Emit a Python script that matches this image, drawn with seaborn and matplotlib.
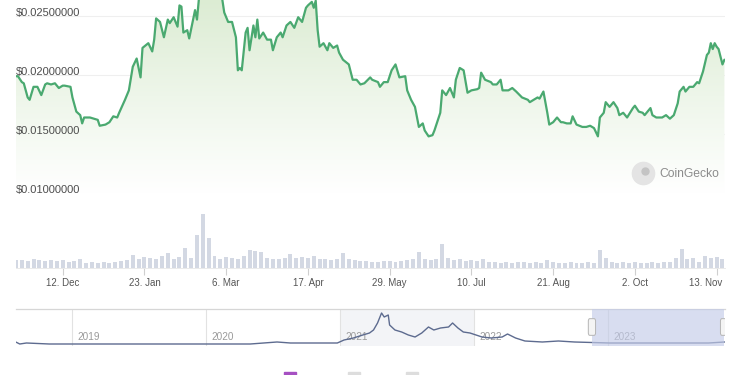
import numpy as np
import pandas as pd
import matplotlib.pyplot as plt
import seaborn as sns
from matplotlib.colors import LinearSegmentedColormap
from matplotlib.patches import Rectangle, FancyBboxPatch
from matplotlib.transforms import offset_copy

# price, one year of data starting 18 Nov 2022 (day offsets)
start = pd.Timestamp('2022-11-18')
day_offset = [0, 1, 3, 4, 6, 7, 9, 11, 13, 15,
              16, 18, 20, 22, 24, 25, 28, 29, 31, 33,
              34, 35, 38, 42, 43, 46, 48, 50, 52, 53,
              56, 58, 60, 62, 64, 65, 68, 70, 71, 72,
              74, 76, 78, 79, 81, 83, 84, 85, 86, 88,
              89, 92, 93, 94, 96, 98, 100, 102, 104, 105,
              106, 107, 109, 111, 113, 114, 115, 116, 118, 119,
              120, 122, 123, 124, 125, 127, 129, 131, 132, 134,
              136, 137, 139, 141, 143, 145, 147, 149, 150, 152,
              153, 154, 155, 156, 158, 160, 161, 163, 165, 166,
              168, 171, 173, 175, 177, 179, 182, 183, 186, 187,
              189, 191, 193, 195, 197, 200, 201, 203, 205, 207,
              209, 210, 212, 214, 215, 218, 219, 221, 223, 225,
              226, 228, 230, 232, 234, 237, 238, 239, 241, 244,
              245, 247, 249, 250, 253, 255, 257, 260, 263, 264,
              266, 268, 269, 271, 273, 274, 276, 278, 280, 281,
              283, 285, 286, 288, 291, 293, 295, 297, 299, 300,
              302, 303, 305, 307, 309, 310, 312, 314, 317, 318,
              320, 322, 323, 326, 327, 329, 332, 334, 336, 338,
              340, 341, 343, 344, 346, 348, 350, 351, 353, 355,
              356, 357, 358, 359, 360, 361, 363, 364]
price = [.0199, .0199, .0194, .0193, .0181, .0179, .0190, .0190, .0183, .0192,
         .0193, .0192, .0193, .0189, .0191, .0191, .0190, .0181, .0169, .0166,
         .0159, .0164, .0164, .0162, .0157, .0158, .0160, .0165, .0164, .0168,
         .0179, .0187, .0207, .0214, .0198, .0223, .0227, .0220, .0230, .0248,
         .0245, .0232, .0247, .0244, .0249, .0241, .0259, .0258, .0236, .0238,
         .0231, .0255, .0247, .0265, .0275, .0270, .0282, .0276, .0285, .0272,
         .0264, .0253, .0245, .0245, .0232, .0204, .0206, .0204, .0236, .0240,
         .0221, .0242, .0232, .0247, .0231, .0236, .0230, .0230, .0221, .0232,
         .0236, .0232, .0242, .0245, .0240, .0249, .0245, .0257, .0259, .0262,
         .0257, .0263, .0238, .0224, .0227, .0221, .0227, .0223, .0225, .0219,
         .0213, .0209, .0196, .0196, .0192, .0193, .0198, .0196, .0194, .0190,
         .0194, .0194, .0204, .0209, .0198, .0199, .0187, .0179, .0173, .0156,
         .0159, .0153, .0148, .0149, .0153, .0168, .0187, .0183, .0189, .0181,
         .0196, .0206, .0204, .0185, .0187, .0188, .0189, .0202, .0196, .0194,
         .0192, .0192, .0196, .0187, .0187, .0189, .0186, .0181, .0179, .0177,
         .0179, .0181, .0180, .0186, .0168, .0158, .0160, .0164, .0160, .0160,
         .0159, .0159, .0165, .0158, .0156, .0156, .0157, .0155, .0148, .0164,
         .0168, .0177, .0173, .0177, .0172, .0166, .0168, .0164, .0172, .0174,
         .0169, .0168, .0166, .0172, .0166, .0164, .0164, .0166, .0163, .0166,
         .0176, .0186, .0190, .0186, .0190, .0190, .0194, .0193, .0203, .0217,
         .0219, .0227, .0222, .0227, .0224, .0222, .0209, .0213]

# volume, one reading every 3 days (arbitrary units)
vol_step = 3
volume = [8, 8, 7, 9, 8, 7, 8, 7, 8, 6,
          7, 9, 5, 6, 5, 6, 5, 6, 7, 8,
          13, 9, 11, 10, 9, 12, 15, 9, 11, 20,
          10, 33, 54, 30, 12, 9, 11, 10, 9, 12,
          18, 17, 16, 10, 9, 9, 10, 14, 10, 11,
          10, 12, 9, 9, 8, 9, 15, 9, 8, 7,
          7, 6, 6, 7, 7, 6, 7, 8, 9, 16,
          9, 8, 9, 24, 10, 8, 9, 7, 8, 7,
          9, 6, 6, 5, 6, 5, 6, 6, 5, 6,
          5, 8, 6, 5, 5, 6, 5, 5, 6, 5,
          18, 10, 6, 5, 6, 5, 6, 5, 5, 6,
          5, 6, 6, 10, 19, 9, 10, 6, 12, 10,
          11, 9]
vol_day = np.arange(len(volume)) * vol_step

tick_dates = ['2022-12-12', '2023-01-23', '2023-03-06', '2023-04-17', '2023-05-29',
              '2023-07-10', '2023-08-21', '2023-10-02', '2023-11-13']
tick_labels = ['12. Dec', '23. Jan', '6. Mar', '17. Apr', '29. May',
               '10. Jul', '21. Aug', '2. Oct', '13. Nov']
price_levels = [0.010, 0.015, 0.020, 0.025]

# navigator (full history)
nav_year = [2018.58, 2018.61, 2018.66, 2018.83, 2019.21, 2019.96, 2020.33, 2020.53,
            2020.63, 2020.83, 2020.98, 2021.03, 2021.10, 2021.17, 2021.22, 2021.25,
            2021.28, 2021.31, 2021.33, 2021.36, 2021.37, 2021.41, 2021.46, 2021.51,
            2021.56, 2021.61, 2021.66, 2021.70, 2021.75, 2021.81, 2021.84, 2021.88,
            2021.92, 2021.97, 2022.06, 2022.13, 2022.21, 2022.25, 2022.31, 2022.38,
            2022.51, 2022.63, 2022.75, 2023.01, 2023.26, 2023.51, 2023.75, 2023.87]
nav_price = [0.024, 0.012, 0.018, 0.012, 0.012, 0.012, 0.012, 0.024,
             0.018, 0.018, 0.018, 0.036, 0.048, 0.066, 0.078, 0.096,
             0.138, 0.198, 0.174, 0.186, 0.126, 0.096, 0.084, 0.066,
             0.054, 0.078, 0.114, 0.096, 0.108, 0.114, 0.138, 0.108,
             0.084, 0.078, 0.054, 0.048, 0.054, 0.072, 0.048, 0.030,
             0.024, 0.030, 0.024, 0.018, 0.018, 0.018, 0.018, 0.024]
nav_years = [2019, 2020, 2021, 2022, 2023]

LINE = '#4aa970'
VOL = '#d3d8e3'
NAV = '#5d6b8f'

sns.set_theme(style='white')
plt.rcParams['font.family'] = ['Liberation Sans', 'DejaVu Sans']

W, H = 750, 375
fig = plt.figure(figsize=(7.5, 3.75), dpi=100)
fig.patch.set_facecolor('white')

XMAX = 364.3
YMIN, YMAX = 0.010, 0.02636

# ---- main price chart
ax = fig.add_axes([16 / W, 1 - 193 / H, 709 / W, 193 / H])
for v in price_levels:
    ax.axhline(v, color='#efefef', lw=0.8, zorder=0)
    ax.annotate(f'${v:.8f}', (0, v), xytext=(0, -1.5), textcoords='offset points',
                ha='left', va='bottom', fontsize=8, color='#4d4d4d', zorder=4)

poly = ax.fill_between(day_offset, price, YMIN, color='none', lw=0)
cmap = LinearSegmentedColormap.from_list('g', ['#ffffff', '#eef6ea', '#dcecd3'])
img = ax.imshow(np.linspace(0, 1, 256).reshape(-1, 1), cmap=cmap, aspect='auto',
                origin='lower', extent=[0, XMAX, YMIN, YMAX], zorder=1)
img.set_clip_path(poly.get_paths()[0], transform=ax.transData)

sns.lineplot(x=day_offset, y=price, ax=ax, color=LINE, linewidth=1.6,
             estimator=None, zorder=3)
ax.set_xlim(0, XMAX)
ax.set_ylim(YMIN, YMAX)
ax.axis('off')

# CoinGecko watermark
fig.lines.append(plt.Line2D([643 / W], [1 - 173 / H], marker='o', markersize=16,
                            color='#e4e4e4', transform=fig.transFigure))
fig.lines.append(plt.Line2D([645 / W], [1 - 171 / H], marker='o', markersize=5,
                            color='#c4c4c4', transform=fig.transFigure))
fig.text(659 / W, 1 - 174 / H, 'CoinGecko', fontsize=8.7, color='#8c8c8c',
         ha='left', va='center')

# ---- volume
vax = fig.add_axes([16 / W, 1 - 268 / H, 709 / W, 63 / H])
sns.histplot(x=vol_day, weights=volume, binwidth=vol_step, binrange=(-1.5, 364.5),
             shrink=0.68, color=VOL, edgecolor='none', linewidth=0, alpha=1, ax=vax)
vax.set_xlim(0, XMAX)
vax.set_ylim(0, 63)
vax.set_xlabel('')
vax.set_ylabel('')
vax.set_yticks([])
tick_days = [(pd.Timestamp(d) - start).days for d in tick_dates]
vax.set_xticks(tick_days, tick_labels)
vax.tick_params(axis='x', bottom=True, length=5, width=0.8, color='#cfcfcf',
                labelcolor='#555555', labelsize=7, pad=2)
# last label is pushed inside the plot, as the original does
last = vax.get_xticklabels()[-1]
last.set_ha('right')
last.set_transform(offset_copy(last.get_transform(), fig=fig, x=6, units='dots'))
for s in ['top', 'left', 'right']:
    vax.spines[s].set_visible(False)
vax.spines['bottom'].set_color('#e6e6e6')
vax.spines['bottom'].set_linewidth(0.6)
vax.patch.set_alpha(0)

# ---- navigator
nax = fig.add_axes([16 / W, 1 - 346 / H, 709 / W, 37 / H])
nax.axvspan(2021, 2022, color='#f3f4f7', lw=0, zorder=0)
for yr in nav_years:
    nax.axvline(yr, color='#e2e2e2', lw=0.8, zorder=1)
    nax.text(yr + 0.04, 0.054, str(yr), fontsize=7.2, color='#9a9a9a',
             ha='left', va='center', zorder=2)
sns.lineplot(x=nav_year, y=nav_price, ax=nax, color=NAV, linewidth=1.0,
             estimator=None, zorder=3)
nax.axvspan(2022.88, 2023.866, color='#c3cbe8', alpha=0.65, lw=0, zorder=4)
for hx in [2022.88, 2023.866]:
    nax.add_patch(FancyBboxPatch((hx - 0.022, 0.072), 0.044, 0.084,
                                 boxstyle='round,pad=0.005,rounding_size=0.01',
                                 mutation_aspect=1.6,
                                 facecolor='#f4f4f4', edgecolor='#b5b5b5', lw=0.7,
                                 zorder=5))
nax.set_xlim(2018.582, 2023.873)
nax.set_ylim(0, 0.222)
nax.set_xticks([])
nax.set_yticks([])
nax.set_xlabel('')
nax.set_ylabel('')
for s in ['bottom', 'left', 'right']:
    nax.spines[s].set_visible(False)
nax.spines['top'].set_color('#d6d6d6')
nax.spines['top'].set_linewidth(0.9)

# cut-off legend toggles at the bottom edge
for x0, c in [(284, '#a650c2'), (348, '#dddddd'), (406, '#dddddd')]:
    fig.patches.append(Rectangle((x0 / W, 0), 12 / W, 3 / H, color=c,
                                 transform=fig.transFigure))

fig.savefig('out.png', dpi=100)
